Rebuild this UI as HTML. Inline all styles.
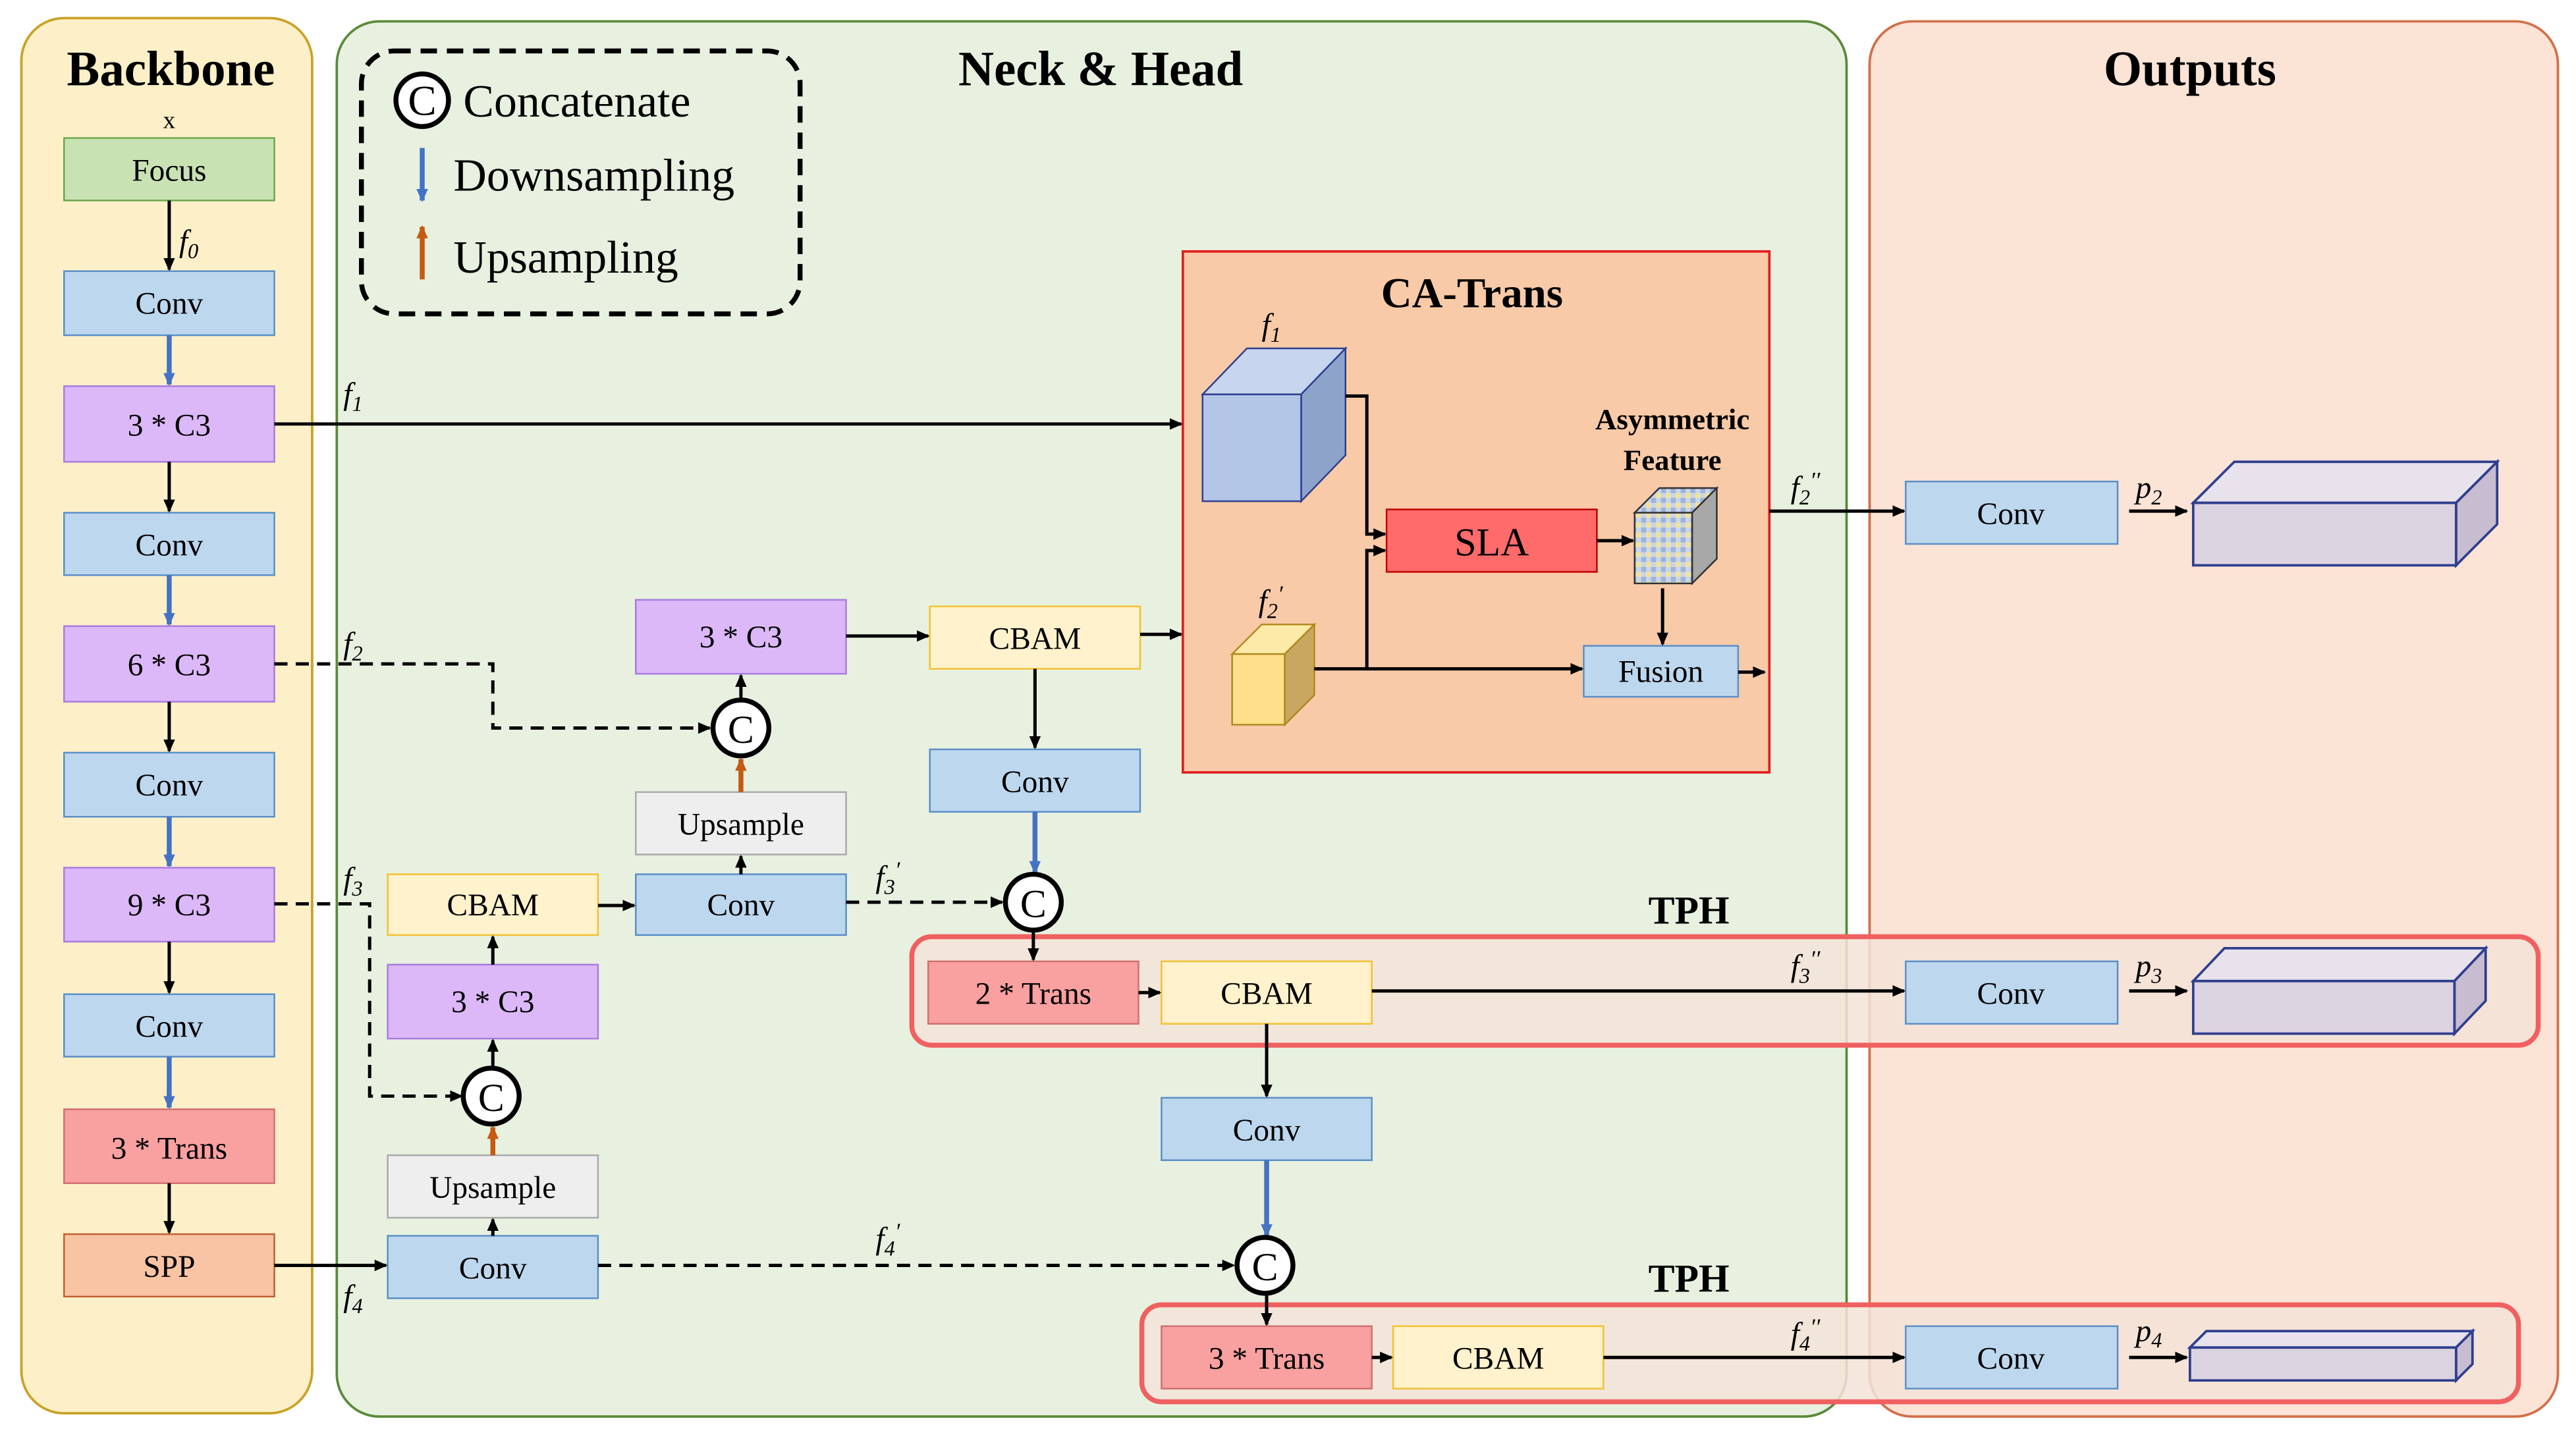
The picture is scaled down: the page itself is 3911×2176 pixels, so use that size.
<!DOCTYPE html>
<html><head><meta charset="utf-8">
<style>
html,body{margin:0;padding:0;background:#fff;}
svg{display:block;}
text{font-family:"Liberation Serif",serif;}
</style></head>
<body>
<svg width="3911" height="2176" viewBox="0 0 1568 872" preserveAspectRatio="none" xmlns="http://www.w3.org/2000/svg">
<defs>
<marker id="ak" markerWidth="8" markerHeight="8" refX="7" refY="4" orient="auto" markerUnits="userSpaceOnUse"><path d="M0,0.5 L8,4 L0,7.5 z" fill="#000"/></marker>
<marker id="ab" markerWidth="8" markerHeight="8" refX="7" refY="4" orient="auto" markerUnits="userSpaceOnUse"><path d="M0,0.5 L8,4 L0,7.5 z" fill="#4472c4"/></marker>
<marker id="ao" markerWidth="8" markerHeight="8" refX="7" refY="4" orient="auto" markerUnits="userSpaceOnUse"><path d="M0,0.5 L8,4 L0,7.5 z" fill="#c55a11"/></marker>
<pattern id="chk" width="6" height="6" patternUnits="userSpaceOnUse"><rect width="6" height="6" fill="#c9d6ea"/><rect width="3" height="3" fill="#f2e29a"/><rect x="3" y="3" width="3" height="3" fill="#9fb3d6"/></pattern>
</defs>

<!-- panels -->
<rect x="13" y="11" width="177" height="849" rx="26" fill="#fdf0c8" stroke="#c9a227" stroke-width="1.5"/>
<rect x="205" y="13" width="919" height="849" rx="26" fill="#e8f1e0" stroke="#5a8a3a" stroke-width="1.5"/>
<rect x="1138" y="13" width="419" height="849" rx="26" fill="#fbe3d6" stroke="#d0704a" stroke-width="1.5"/>
<text x="104" y="52" font-size="30" font-weight="bold" text-anchor="middle">Backbone</text>
<text x="670" y="52" font-size="30" font-weight="bold" text-anchor="middle">Neck &amp; Head</text>
<text x="1333" y="52" font-size="30" font-weight="bold" text-anchor="middle">Outputs</text>
<text x="103" y="78" font-size="15" text-anchor="middle">x</text>

<!-- legend -->
<rect x="220" y="31" width="267" height="160" rx="20" fill="none" stroke="#000" stroke-width="3" stroke-dasharray="10,6"/>
<circle cx="257" cy="61" r="16" fill="#fff" stroke="#000" stroke-width="3"/>
<text x="257" y="70" font-size="26" text-anchor="middle">C</text>
<text x="282" y="71" font-size="28">Concatenate</text>
<line x1="257" y1="90" x2="257" y2="122" stroke="#4472c4" stroke-width="3" marker-end="url(#ab)"/>
<text x="276" y="116" font-size="28">Downsampling</text>
<line x1="257" y1="170" x2="257" y2="138" stroke="#c55a11" stroke-width="3" marker-end="url(#ao)"/>
<text x="276" y="166" font-size="28">Upsampling</text>

<!-- backbone boxes -->
<g font-size="19" text-anchor="middle">
<rect x="39" y="84" width="128" height="38" fill="#c9e2b3" stroke="#6aa84f"/><text x="103" y="110">Focus</text>
<rect x="39" y="165" width="128" height="39" fill="#bdd7ee" stroke="#5b8fc7"/><text x="103" y="191">Conv</text>
<rect x="39" y="235" width="128" height="46" fill="#dcb8f8" stroke="#a97be0"/><text x="103" y="265">3 * C3</text>
<rect x="39" y="312" width="128" height="38" fill="#bdd7ee" stroke="#5b8fc7"/><text x="103" y="338">Conv</text>
<rect x="39" y="381" width="128" height="46" fill="#dcb8f8" stroke="#a97be0"/><text x="103" y="411">6 * C3</text>
<rect x="39" y="458" width="128" height="39" fill="#bdd7ee" stroke="#5b8fc7"/><text x="103" y="484">Conv</text>
<rect x="39" y="528" width="128" height="45" fill="#dcb8f8" stroke="#a97be0"/><text x="103" y="557">9 * C3</text>
<rect x="39" y="605" width="128" height="38" fill="#bdd7ee" stroke="#5b8fc7"/><text x="103" y="631">Conv</text>
<rect x="39" y="675" width="128" height="45" fill="#f9a0a0" stroke="#d07070"/><text x="103" y="705">3 * Trans</text>
<rect x="39" y="751" width="128" height="38" fill="#f8c4a4" stroke="#c06030"/><text x="103" y="777">SPP</text>
</g>
<g stroke-width="2">
<line x1="103" y1="122" x2="103" y2="164" stroke="#000" marker-end="url(#ak)"/>
<line x1="103" y1="204" x2="103" y2="234" stroke="#4472c4" stroke-width="3" marker-end="url(#ab)"/>
<line x1="103" y1="281" x2="103" y2="311" stroke="#000" marker-end="url(#ak)"/>
<line x1="103" y1="350" x2="103" y2="380" stroke="#4472c4" stroke-width="3" marker-end="url(#ab)"/>
<line x1="103" y1="427" x2="103" y2="457" stroke="#000" marker-end="url(#ak)"/>
<line x1="103" y1="497" x2="103" y2="527" stroke="#4472c4" stroke-width="3" marker-end="url(#ab)"/>
<line x1="103" y1="573" x2="103" y2="604" stroke="#000" marker-end="url(#ak)"/>
<line x1="103" y1="643" x2="103" y2="674" stroke="#4472c4" stroke-width="3" marker-end="url(#ab)"/>
<line x1="103" y1="720" x2="103" y2="750" stroke="#000" marker-end="url(#ak)"/>
</g>

<!-- CA-Trans -->
<rect x="720" y="153" width="357" height="317" fill="#f8caa8" stroke="#e02020" stroke-width="1.5"/>
<text x="896" y="187" font-size="26" font-weight="bold" text-anchor="middle">CA-Trans</text>
<polygon points="732,240 759,212 819,212 792,240" fill="#c8d5ee" stroke="#2f3f8f"/>
<polygon points="792,240 819,212 819,277 792,305" fill="#8ea3c9" stroke="#2f3f8f"/>
<rect x="732" y="240" width="60" height="65" fill="#b4c6e7" stroke="#2f3f8f"/>
<polygon points="750,398 768,380 800,380 782,398" fill="#fde9a8" stroke="#b08a20"/>
<polygon points="782,398 800,380 800,423 782,441" fill="#c8a860" stroke="#b08a20"/>
<rect x="750" y="398" width="32" height="43" fill="#ffe08a" stroke="#b08a20"/>
<rect x="844" y="310" width="128" height="38" fill="#ff6b6b" stroke="#c00000"/>
<text x="908" y="338" font-size="24" text-anchor="middle">SLA</text>
<text x="1018" y="261" font-size="18" font-weight="bold" text-anchor="middle">Asymmetric</text>
<text x="1018" y="286" font-size="18" font-weight="bold" text-anchor="middle">Feature</text>
<polygon points="995,312 1010,297 1045,297 1030,312" fill="url(#chk)" stroke="#333"/>
<polygon points="1030,312 1045,297 1045,340 1030,355" fill="#a8a8a8" stroke="#333"/>
<rect x="995" y="312" width="35" height="43" fill="url(#chk)" stroke="#333"/>
<rect x="964" y="393" width="94" height="31" fill="#bdd7ee" stroke="#5b8fc7"/>
<text x="1011" y="415" font-size="19" text-anchor="middle">Fusion</text>
<g stroke="#000" stroke-width="2" fill="none">
<polyline points="819,241 832,241 832,325 843,325" marker-end="url(#ak)"/>
<polyline points="800,407 832,407 832,335 843,335" marker-end="url(#ak)"/>
<line x1="832" y1="407" x2="963" y2="407" marker-end="url(#ak)"/>
<line x1="972" y1="329" x2="994" y2="329" marker-end="url(#ak)"/>
<line x1="1012" y1="358" x2="1012" y2="392" marker-end="url(#ak)"/>
<line x1="1058" y1="409" x2="1074" y2="409" marker-end="url(#ak)"/>
<line x1="1077" y1="311" x2="1159" y2="311" marker-end="url(#ak)"/>
<line x1="167" y1="258" x2="719" y2="258" marker-end="url(#ak)"/>
</g>

<!-- TPH boxes -->
<rect x="555" y="570" width="990" height="66" rx="12" fill="#f3e3d8" fill-opacity="0.85" stroke="#f06060" stroke-width="3"/>
<text x="1028" y="562" font-size="24" font-weight="bold" text-anchor="middle">TPH</text>
<rect x="695" y="794" width="838" height="59" rx="12" fill="#f3e3d8" fill-opacity="0.85" stroke="#f06060" stroke-width="3"/>
<text x="1028" y="786" font-size="24" font-weight="bold" text-anchor="middle">TPH</text>

<!-- neck boxes -->
<g font-size="19" text-anchor="middle">
<rect x="387" y="365" width="128" height="45" fill="#dcb8f8" stroke="#a97be0"/><text x="451" y="394">3 * C3</text>
<rect x="566" y="369" width="128" height="38" fill="#fff2cc" stroke="#f1c232"/><text x="630" y="395">CBAM</text>
<rect x="566" y="456" width="128" height="38" fill="#bdd7ee" stroke="#5b8fc7"/><text x="630" y="482">Conv</text>
<rect x="387" y="482" width="128" height="38" fill="#eeeeee" stroke="#aaaaaa"/><text x="451" y="508">Upsample</text>
<rect x="387" y="532" width="128" height="37" fill="#bdd7ee" stroke="#5b8fc7"/><text x="451" y="557">Conv</text>
<rect x="236" y="532" width="128" height="37" fill="#fff2cc" stroke="#f1c232"/><text x="300" y="557">CBAM</text>
<rect x="236" y="587" width="128" height="45" fill="#dcb8f8" stroke="#a97be0"/><text x="300" y="616">3 * C3</text>
<rect x="236" y="703" width="128" height="38" fill="#eeeeee" stroke="#aaaaaa"/><text x="300" y="729">Upsample</text>
<rect x="236" y="752" width="128" height="38" fill="#bdd7ee" stroke="#5b8fc7"/><text x="300" y="778">Conv</text>
<rect x="565" y="585" width="128" height="38" fill="#f9a0a0" stroke="#d07070"/><text x="629" y="611">2 * Trans</text>
<rect x="707" y="585" width="128" height="38" fill="#fff2cc" stroke="#f1c232"/><text x="771" y="611">CBAM</text>
<rect x="707" y="668" width="128" height="38" fill="#bdd7ee" stroke="#5b8fc7"/><text x="771" y="694">Conv</text>
<rect x="707" y="807" width="128" height="38" fill="#f9a0a0" stroke="#d07070"/><text x="771" y="833">3 * Trans</text>
<rect x="848" y="807" width="128" height="38" fill="#fff2cc" stroke="#f1c232"/><text x="912" y="833">CBAM</text>
<rect x="1160" y="293" width="129" height="38" fill="#bdd7ee" stroke="#5b8fc7"/><text x="1224" y="319">Conv</text>
<rect x="1160" y="585" width="129" height="38" fill="#bdd7ee" stroke="#5b8fc7"/><text x="1224" y="611">Conv</text>
<rect x="1160" y="807" width="129" height="38" fill="#bdd7ee" stroke="#5b8fc7"/><text x="1224" y="833">Conv</text>
</g>

<!-- connectors -->
<g stroke="#000" stroke-width="2" fill="none">
<polyline points="167,404 300,404 300,443 432,443" stroke-dasharray="8,5" marker-end="url(#ak)"/>
<polyline points="167,550 225,550 225,667 281,667" stroke-dasharray="8,5" marker-end="url(#ak)"/>
<line x1="515" y1="549" x2="610" y2="549" stroke-dasharray="8,5" marker-end="url(#ak)"/>
<line x1="364" y1="770" x2="751" y2="770" stroke-dasharray="8,5" marker-end="url(#ak)"/>
<line x1="515" y1="387" x2="565" y2="387" marker-end="url(#ak)"/>
<line x1="694" y1="386" x2="719" y2="386" marker-end="url(#ak)"/>
<line x1="630" y1="407" x2="630" y2="455" marker-end="url(#ak)"/>
<line x1="451" y1="426" x2="451" y2="411" marker-end="url(#ak)"/>
<line x1="451" y1="532" x2="451" y2="521" marker-end="url(#ak)"/>
<line x1="364" y1="551" x2="386" y2="551" marker-end="url(#ak)"/>
<line x1="300" y1="587" x2="300" y2="570" marker-end="url(#ak)"/>
<line x1="300" y1="650" x2="300" y2="633" marker-end="url(#ak)"/>
<line x1="300" y1="752" x2="300" y2="742" marker-end="url(#ak)"/>
<line x1="167" y1="770" x2="235" y2="770" marker-end="url(#ak)"/>
<line x1="629" y1="566" x2="629" y2="584" marker-end="url(#ak)"/>
<line x1="693" y1="604" x2="706" y2="604" marker-end="url(#ak)"/>
<line x1="835" y1="603" x2="1159" y2="603" marker-end="url(#ak)"/>
<line x1="771" y1="623" x2="771" y2="667" marker-end="url(#ak)"/>
<line x1="771" y1="787" x2="771" y2="806" marker-end="url(#ak)"/>
<line x1="835" y1="826" x2="847" y2="826" marker-end="url(#ak)"/>
<line x1="976" y1="826" x2="1159" y2="826" marker-end="url(#ak)"/>
<line x1="1296" y1="311" x2="1331" y2="311" marker-end="url(#ak)"/>
<line x1="1296" y1="603" x2="1331" y2="603" marker-end="url(#ak)"/>
<line x1="1296" y1="826" x2="1331" y2="826" marker-end="url(#ak)"/>
</g>
<line x1="451" y1="482" x2="451" y2="462" stroke="#c55a11" stroke-width="3" marker-end="url(#ao)"/>
<line x1="300" y1="703" x2="300" y2="686" stroke="#c55a11" stroke-width="3" marker-end="url(#ao)"/>
<line x1="630" y1="494" x2="630" y2="531" stroke="#4472c4" stroke-width="3" marker-end="url(#ab)"/>
<line x1="771" y1="706" x2="771" y2="752" stroke="#4472c4" stroke-width="3" marker-end="url(#ab)"/>

<!-- concat circles -->
<g font-size="24" text-anchor="middle">
<circle cx="451" cy="443" r="17" fill="#fff" stroke="#000" stroke-width="3"/><text x="451" y="452">C</text>
<circle cx="629" cy="549" r="17" fill="#fff" stroke="#000" stroke-width="3"/><text x="629" y="558">C</text>
<circle cx="299" cy="667" r="17" fill="#fff" stroke="#000" stroke-width="3"/><text x="299" y="676">C</text>
<circle cx="770" cy="770" r="17" fill="#fff" stroke="#000" stroke-width="3"/><text x="770" y="779">C</text>
</g>

<!-- output tensors -->
<g stroke="#2f3f8f" stroke-width="1.5">
<polygon points="1335,306 1360,281 1520,281 1495,306" fill="#e8e2ec"/>
<polygon points="1495,306 1520,281 1520,319 1495,344" fill="#c8bcd0"/>
<rect x="1335" y="306" width="160" height="38" fill="#dcd3e0"/>
<polygon points="1335,597 1354,577 1513,577 1494,597" fill="#e8e2ec"/>
<polygon points="1494,597 1513,577 1513,609 1494,629" fill="#c8bcd0"/>
<rect x="1335" y="597" width="159" height="32" fill="#dcd3e0"/>
<polygon points="1333,820 1343,810 1505,810 1495,820" fill="#e8e2ec"/>
<polygon points="1495,820 1505,810 1505,830 1495,840" fill="#c8bcd0"/>
<rect x="1333" y="820" width="162" height="20" fill="#dcd3e0"/>
</g>

<!-- labels on top -->
<g font-size="19" font-style="italic">
<text x="109" y="153">f<tspan font-size="13" dy="4">0</tspan></text>
<text x="209" y="246">f<tspan font-size="13" dy="4">1</tspan></text>
<text x="209" y="398">f<tspan font-size="13" dy="4">2</tspan></text>
<text x="209" y="541">f<tspan font-size="13" dy="4">3</tspan></text>
<text x="209" y="795">f<tspan font-size="13" dy="4">4</tspan></text>
<text x="768" y="204">f<tspan font-size="13" dy="4">1</tspan></text>
<text x="766" y="372">f<tspan font-size="13" dy="4">2</tspan><tspan dy="-10" font-size="14">′</tspan></text>
<text x="533" y="540">f<tspan font-size="13" dy="4">3</tspan><tspan dy="-10" font-size="14">′</tspan></text>
<text x="533" y="760">f<tspan font-size="13" dy="4">4</tspan><tspan dy="-10" font-size="14">′</tspan></text>
<text x="1090" y="303">f<tspan font-size="13" dy="4">2</tspan><tspan dy="-10" font-size="14">′′</tspan></text>
<text x="1090" y="594">f<tspan font-size="13" dy="4">3</tspan><tspan dy="-10" font-size="14">′′</tspan></text>
<text x="1090" y="818">f<tspan font-size="13" dy="4">4</tspan><tspan dy="-10" font-size="14">′′</tspan></text>
<text x="1300" y="303">p<tspan font-size="13" dy="4">2</tspan></text>
<text x="1300" y="594">p<tspan font-size="13" dy="4">3</tspan></text>
<text x="1300" y="816">p<tspan font-size="13" dy="4">4</tspan></text>
</g>
</svg>
</body></html>
